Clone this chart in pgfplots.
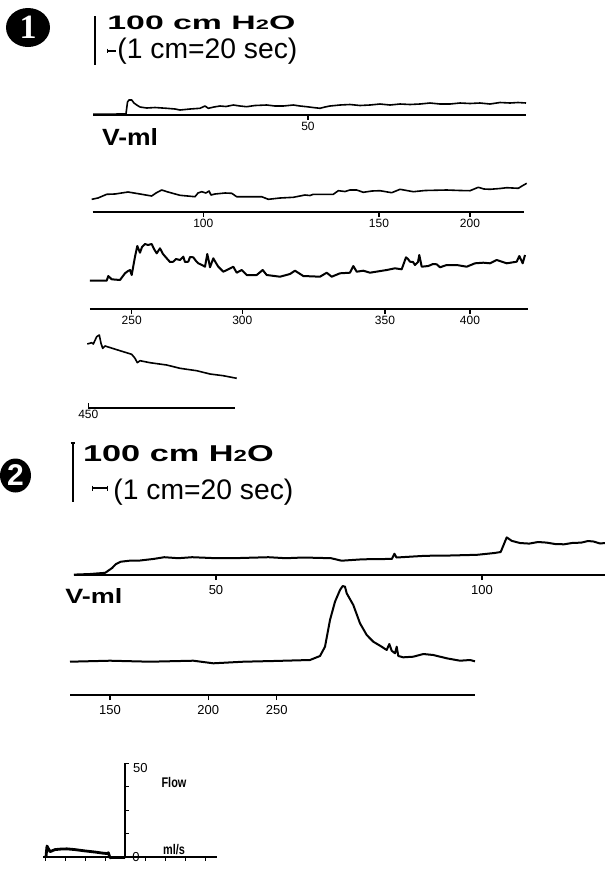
\documentclass[border=0pt]{standalone}
\usepackage{pgfplots}
\pgfplotsset{compat=1.18}
\usepackage{graphicx}
\usepackage{fontspec}
\setmainfont{Liberation Sans}
\newfontfamily\serifbf{Liberation Serif}
\pgfplotsset{
  trace/.style={
    anchor=south west, x=0.5pt, y=0.5pt, scale only axis, clip=false,
    axis x line=bottom, axis y line=none,
    axis line style={-, line width=0.9pt},
    ymin=0,
    xtick align=outside, major tick length=2.5pt,
    xtick style={line width=0.6pt, black},
    tick label style={font=\fontsize{6}{7}\selectfont, /pgf/number format/assume math mode=true, inner sep=1pt},
  },
  trace2/.style={trace, tick label style={font=\fontsize{6.5}{7}\selectfont}, xticklabel style={yshift=-1.5pt}},
  tr/.style={black, line width=#1, line join=round, mark=none},
}
\begin{document}
\begin{tikzpicture}
\path (0,0) rectangle (302.5pt,-434.5pt);
\begin{scope}[overlay]
\begin{scope}[x=0.5pt,y=-0.5pt]
% ---------- panel 1 header
\fill (28,27.5) ellipse [x radius=11pt, y radius=9.75pt];
\node[text=white, font=\serifbf\bfseries\fontsize{17}{17}\selectfont, inner sep=0] at (28,27.5) {1};
\draw[line width=1pt] (95,16) -- (95,65);
\node[anchor=base west, inner sep=0] at (107,29) {\resizebox{94pt}{6.8pt}{\bfseries 100 cm H{\fontsize{7}{7}\selectfont 2}O}};
\draw[line width=0.8pt] (107,50.7) -- (116,50.7);
\draw[line width=0.5pt] (107,48.5) -- (107,53);
\node[anchor=west, inner sep=0] at (117,51.5) {\resizebox{90pt}{!}{(1 cm=20 sec)}};
\node[anchor=base west, inner sep=0] at (101.7,145) {\resizebox{28pt}{8.5pt}{\bfseries V-ml}};
% ---------- panel 2 header
\fill (15.5,475.5) ellipse [x radius=7.75pt, y radius=8.5pt];
\node[text=white, font=\bfseries\fontsize{15}{15}\selectfont, inner sep=0] at (15.5,475.5) {2};
\draw[line width=1pt] (72.7,443) -- (72.7,502);
\draw[line width=0.6pt] (70.5,443) -- (75,443);
\node[anchor=base west, inner sep=0] at (82.7,461) {\resizebox{95.3pt}{8pt}{\bfseries 100 cm H{\fontsize{7}{7}\selectfont 2}O}};
\draw[line width=0.9pt] (92.7,488.3) -- (107.3,488.3);
\draw[line width=0.6pt] (92.7,485.5) -- (92.7,491) (107.3,485.5) -- (107.3,491);
\node[anchor=west, inner sep=0] at (113,492.5) {\resizebox{90pt}{!}{(1 cm=20 sec)}};
\node[anchor=base west, inner sep=0] at (65,603) {\resizebox{28.5pt}{7.5pt}{\bfseries V-ml}};
\end{scope}

% ---------- panel 1, row 1
\begin{axis}[trace, at={(46.5pt,-57.5pt)}, xmin=93, xmax=526, ymax=20,
  xtick={308}, xticklabels={50}]
\addplot[tr=0.8pt] coordinates {
(93,0.8)(110,0.8)(126,1.2)(127.5,13)(129,15)(131.7,15)(134,12)(136.7,10)(140,8)
(146.7,7)(155,7.5)(166.7,6.7)(175,6)(180,5)(190,6)(200,6.7)(205,9)(208.3,6.7)
(214,8)(220,9)(226,8.5)(233.3,10)(240,9)(246.7,8.3)(255,9.5)(266.7,10)(275,9)
(283.3,9)(293.3,10)(300,9)(306.7,8.3)(313,7.5)(320,6.7)(325,8)(330,9)(340,10)
(350,10.5)(360,9.5)(370,10)(380,11)(390,10)(400,11)(410,10.5)(420,11)(430,12)
(440,11)(450,11)(460,12)(470,11.5)(480,12)(490,11)(500,12.5)(510,12)(518,12.5)(526,12)};
\end{axis}

% ---------- panel 1, row 2
\begin{axis}[trace, at={(46.35pt,-106pt)}, xmin=92.7, xmax=524, ymax=30,
  xtick={203.3,379,470}, xticklabels={100,150,200}]
\addplot[tr=0.8pt] coordinates {
(91.7,12.7)(98,14)(106.7,17.7)(115,18)(128,20)(140,18)(151.7,16)(156,19)(161.7,22)
(168,20)(180,16.7)(195,15.3)(198,19)(201.7,20.3)(206,19)(209,21)(211,17)(215,18)
(225,19)(231.7,18.7)(236.7,15.3)(250,15.3)(261.7,15.3)(268.3,12.7)(280,14)(293.3,14.7)
(300,16)(305,17)(310,16.5)(313.3,17.7)(333.3,17.7)(338.3,21.3)(345,20.5)(350,22)
(356.7,22)(363.3,19.7)(372,21)(380,21.3)(391.7,19.3)(400,22.7)(413.3,20.3)(425,21.5)
(446.7,22)(460,21.5)(470,21.3)(478.3,24.7)(484,23)(490,22.7)(500,23.5)(506.7,24.3)
(518.3,23.7)(522,26)(526.7,28.7)};
\end{axis}

% ---------- panel 1, row 3
\begin{axis}[trace, at={(45pt,-154.5pt)}, xmin=90, xmax=528, ymax=70,
  xtick={131.7,242.3,385,470}, xticklabels={250,300,350,400}]
\addplot[tr=1pt] coordinates {
(90,28.3)(106.7,28.3)(108.3,33)(111.7,29.7)(120,29)(125,35.7)(128,38)(130,39)(131.7,34)
(135,52.3)(137.3,63)(140,56.3)(142,62)(145,65)(148,64)(151.7,65)(154,60)(156.7,55.7)
(160,60.7)(163,55)(166.7,50.7)(170,47)(173.3,47.3)(176,50)(180,49)(183.3,52.3)(185,47)
(188.3,47.3)(190,52)(193.3,51.7)(196,48)(198.3,45.7)(202,44)(205,42.3)(207.3,55)(209,47)
(210,41.7)(213.3,50.7)(216,46)(218.3,42.3)(223.3,37.3)(228.3,39.7)(233.3,42.3)(236.7,36.3)
(241.7,39)(246.7,34)(256.7,34)(262.7,39)(266.7,34)(280,32.3)(290,35)(295,38.3)(303.3,33)
(320,32.3)(326.7,36.3)(331.7,32.3)(340,35.7)(350,36.3)(353.3,43)(356.7,37.3)(363.3,38.3)
(370,36.3)(386.7,39)(395,40.7)(401.7,39.7)(406,51.7)(408,50)(410,47.3)(413,47)(415,44)
(418,47)(419.3,54)(421.7,42.3)(428.3,43)(433,45)(436.7,44.7)(440,41.7)(446.7,44)(456.7,44)
(466.7,42.3)(475,45.7)(483.3,46.3)(490,45.7)(496.7,49)(506.7,45.7)(516.7,47.3)(519.3,53)
(522.7,45.7)(525,54)};
\end{axis}

% ---------- panel 1, row 4
\begin{axis}[trace, at={(44.15pt,-204pt)}, xmin=88.3, xmax=235, ymax=75,
  xtick={88.3}, xticklabels={450}, xtick align=inside]
\addplot[tr=0.8pt] coordinates {
(87.3,64)(91.7,65.3)(93.3,64)(96.7,71.3)(99.3,73)(101,64.7)(102.7,59.7)(105,62)(120,57.3)
(131.7,53.7)(135,49.7)(137.3,45.3)(140,47.3)(150,45.3)(166.7,43)(180,39.7)(196.7,37.3)
(210,34)(223.3,32.3)(236.7,29.7)};
\end{axis}

% ---------- panel 2, row 1
\begin{axis}[trace2, at={(36.95pt,-287.5pt)}, xmin=73.9, xmax=605, ymax=40,
  xtick={216,482}, xticklabels={50,100}]
\addplot[tr=1pt] coordinates {
(73.9,0.4)(90,1)(105.2,2.2)(112.1,7)(116,11)(120.8,13.3)(129.5,14.3)(140,14.5)(153.8,16.1)
(164.3,17.8)(178.2,16.8)(192.1,17.8)(216.4,16.8)(240,17)(268.5,17.8)(285.9,16.8)(303.3,17.5)
(331.1,16.8)(341.5,14.3)(362.4,15.7)(391.9,16.1)(394.4,21.3)(396.5,17.5)(425,19.2)(450,19.5)
(477.1,20.2)(494.5,22)(500.7,23)(506.7,37.6)(511.9,34.1)(520,32)(529.2,31.4)(538,33)
(546.6,32.4)(555,31)(564,30.7)(572,32)(581.4,32.4)(588,34)(593.5,33.5)(600,31.5)(605,32)};
\end{axis}

% ---------- panel 2, row 2
\begin{axis}[trace2, at={(35pt,-347.5pt)}, xmin=70, xmax=475, ymax=110,
  xtick={110,208.3,276.7}, xticklabels={150,200,250}]
\addplot[tr=1pt] coordinates {
(70,33.3)(110,34.3)(150,33.3)(193.3,34.3)(213.3,31.7)(243.3,33.3)(273.3,34)(310,35)(320,39)
(325,48.3)(330,75)(335,93.3)(340,105)(342.7,109)(345,108.3)(346.7,101.7)(353.3,90)(360,71.7)
(366.7,60)(373.3,53.3)(381.7,48.3)(386.7,45)(389.3,51)(391.7,44.3)(395,41.7)(396.7,48.3)
(398.3,39)(403.3,37.7)(413.3,38.3)(423.3,41)(433.3,40)(446.7,36.7)(460,34.3)(470,35)(475,33.7)};
\end{axis}

% ---------- flow inset
\begin{axis}[anchor=south west, at={(21.5pt,-428.35pt)}, x=0.5pt, y=0.934pt, scale only axis, clip=false,
  xmin=-82, xmax=92, ymin=0, ymax=50,
  axis x line=bottom, axis y line=middle,
  axis line style={-, line width=0.8pt},
  xtick={-80,-60,-40,-20,20,40,60,80}, xticklabels={},
  ytick={0,12.5,25,37.5,50}, yticklabels={,,,,50},
  major tick length=2pt, tick style={line width=0.5pt, black},
  xtick align=outside, ytick align=inside,
  yticklabel style={anchor=west, xshift=0.5pt, yshift=-2.5pt, font=\fontsize{6.5}{7}\selectfont}]
\addplot[tr=1.4pt] coordinates {
(-79,0)(-78,5.7)(-75,2.7)(-70,3.8)(-64,4.1)(-58,4.2)(-50,3.8)(-40,3.1)(-30,2.5)(-22,1.9)
(-18,1.7)(-16.7,2.1)(-15,-0.5)(-10,-0.4)(0,-0.4)};
\node[anchor=west, inner sep=0, font=\fontsize{6.5}{7}\selectfont] at (axis cs:7,0) {0};
\node[font=\bfseries\fontsize{7}{8}\selectfont] at (axis cs:49,39.5) {\scalebox{0.78}[1]{Flow}};
\node[font=\bfseries\fontsize{7}{8}\selectfont] at (axis cs:49,3.6) {\scalebox{0.78}[1]{ml/s}};
\end{axis}
\end{scope}
\end{tikzpicture}
\end{document}
